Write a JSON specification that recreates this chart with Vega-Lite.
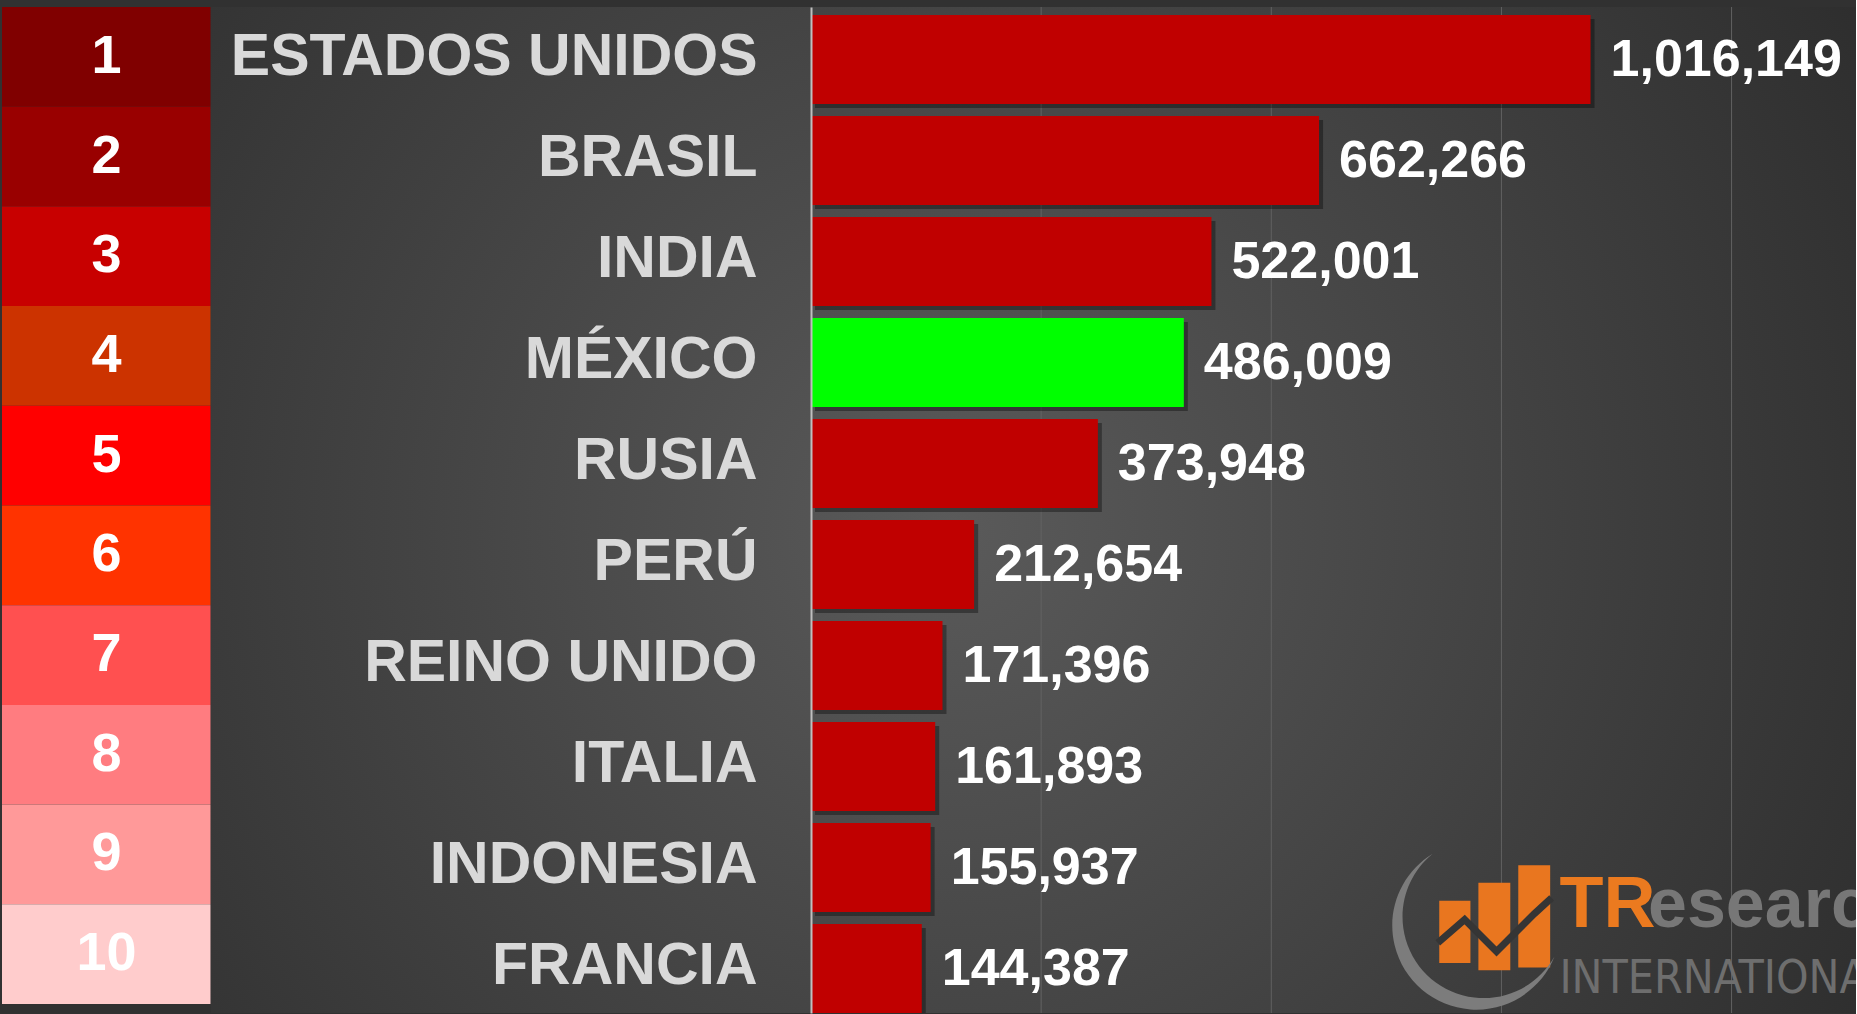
{
  "$schema": "https://vega.github.io/schema/vega-lite/v6.json",
  "background": "#313131",
  "padding": {"top": 6, "left": 2, "right": 0, "bottom": 0},
  "config": {"view": {"stroke": null}, "font": "Liberation Sans"},
  "datasets": {
    "ranking": [
      {"rango": 1, "pais": "ESTADOS UNIDOS", "muertes": 1016149},
      {"rango": 2, "pais": "BRASIL", "muertes": 662266},
      {"rango": 3, "pais": "INDIA", "muertes": 522001},
      {"rango": 4, "pais": "MÉXICO", "muertes": 486009},
      {"rango": 5, "pais": "RUSIA", "muertes": 373948},
      {"rango": 6, "pais": "PERÚ", "muertes": 212654},
      {"rango": 7, "pais": "REINO UNIDO", "muertes": 171396},
      {"rango": 8, "pais": "ITALIA", "muertes": 161893},
      {"rango": 9, "pais": "INDONESIA", "muertes": 155937},
      {"rango": 10, "pais": "FRANCIA", "muertes": 144387}
    ],
    "cuadricula": [
      {"valor": 300000}, {"valor": 600000}, {"valor": 900000}, {"valor": 1200000}
    ]
  },
  "bounds": "flush",
  "spacing": 600,
  "hconcat": [
    {
      "data": {"name": "ranking"},
      "width": 209,
      "height": 997,
      "encoding": {
        "y": {"field": "rango", "type": "ordinal", "axis": null, "scale": {"paddingInner": 0, "paddingOuter": 0}}
      },
      "layer": [
        {
          "mark": {"type": "bar"},
          "encoding": {
            "color": {
              "field": "rango", "type": "ordinal", "legend": null,
              "scale": {"domain": [1, 2, 3, 4, 5, 6, 7, 8, 9, 10],
                        "range": ["#800000", "#990000", "#c80000", "#cc3300", "#ff0000", "#ff3300", "#ff5050", "#ff7c80", "#ff9999", "#ffcccc"]}
            }
          }
        },
        {
          "mark": {"type": "text", "color": "#ffffff", "fontSize": 54, "fontWeight": "bold", "baseline": "middle", "align": "center"},
          "encoding": {"text": {"field": "rango", "type": "ordinal"}}
        }
      ]
    },
    {
      "width": 1045,
      "height": 1006,
      "layer": [
        {
          "data": {"values": [{"fondo": "degradado"}]},
          "mark": {
            "type": "rect",
            "color": {"gradient": "radial", "x1": 0.45, "y1": 0.51, "r1": 0, "x2": 0.45, "y2": 0.51, "r2": 0.68,
                      "stops": [{"offset": 0, "color": "#5a5a5a"}, {"offset": 1, "color": "#2b2b2b"}]}
          },
          "encoding": {
            "x": {"datum": -782800, "type": "quantitative", "axis": null},
            "x2": {"datum": 1362200}
          }
        },
        {
          "data": {"name": "cuadricula"},
          "mark": {"type": "rule", "color": "#626262", "strokeWidth": 1},
          "encoding": {
            "x": {"field": "valor", "type": "quantitative", "axis": null}
          }
        },
        {
          "data": {"name": "ranking"},
          "encoding": {
            "y": {
              "field": "pais", "type": "nominal",
              "sort": {"field": "rango", "op": "min", "order": "ascending"},
              "scale": {"paddingInner": 0.119, "paddingOuter": 0.04, "align": 1},
              "axis": {
                "title": null, "ticks": false, "tickSize": 0, "labelPadding": 54,
                "labelFontSize": 59, "labelFontWeight": "bold", "labelColor": "#d9d9d9",
                "labelFont": "Liberation Sans", "labelLimit": 0, "labelOffset": -3,
                "domainColor": "#bfbfbf", "domainWidth": 2, "zindex": 1
              }
            },
            "x": {
              "field": "muertes", "type": "quantitative",
              "scale": {"domain": [0, 1362200], "nice": false},
              "axis": null
            }
          },
          "layer": [
            {
              "mark": {"type": "bar", "color": "#000000", "opacity": 0.35, "clip": true, "xOffset": 4, "x2Offset": 4, "yOffset": 4, "y2Offset": 4}
            },
            {
              "mark": {"type": "bar", "clip": true},
              "encoding": {
                "color": {"condition": {"test": "datum.pais === 'MÉXICO'", "value": "#00ff00"}, "value": "#c00000"}
              }
            },
            {
              "mark": {"type": "text", "align": "left", "baseline": "middle", "dx": 20, "fontSize": 52, "fontWeight": "bold", "color": "#ffffff"},
              "encoding": {"text": {"field": "muertes", "type": "quantitative", "format": ",d"}}
            }
          ]
        },
        {
          "data": {"values": [{"parte": "barras"}]},
          "mark": {"type": "point", "filled": true, "opacity": 1, "color": "#e9761f", "size": 21025, "yOffset": -46,
                   "shape": "M -0.61 -0.30 H -0.18 V 0.56 H -0.61 Z M -0.07 -0.55 H 0.37 V 0.66 H -0.07 Z M 0.48 -0.79 H 0.92 V 0.62 H 0.48 Z"},
          "encoding": {
            "x": {"datum": 876600, "type": "quantitative", "axis": null},
            "y": {"datum": "FRANCIA", "type": "nominal"}
          }
        },
        {
          "data": {"values": [{"parte": "flecha"}]},
          "mark": {"type": "point", "filled": false, "opacity": 1, "color": "#353535", "strokeWidth": 7, "size": 21025, "yOffset": -46,
                   "shape": "M -0.63 0.28 L -0.26 -0.04 L 0.18 0.40 L 0.70 -0.12 L 0.94 -0.34"},
          "encoding": {
            "x": {"datum": 876600, "type": "quantitative", "axis": null},
            "y": {"datum": "FRANCIA", "type": "nominal"}
          }
        },
        {
          "data": {"values": [{"parte": "luna"}]},
          "mark": {"type": "point", "filled": true, "opacity": 1, "color": "#7c7c7c", "size": 21025, "yOffset": -46,
                   "shape": "M -0.70 -0.95 A 1.16 1.16 0 1 0 0.98 0.47 A 1.12 1.12 0 1 1 -0.70 -0.95 Z"},
          "encoding": {
            "x": {"datum": 876600, "type": "quantitative", "axis": null},
            "y": {"datum": "FRANCIA", "type": "nominal"}
          }
        },
        {
          "data": {"values": [{"texto": "TR"}]},
          "mark": {"type": "text", "align": "left", "baseline": "alphabetic", "dy": -42, "fontSize": 72, "fontWeight": "bold", "color": "#eb7a1f"},
          "encoding": {
            "x": {"datum": 975600, "type": "quantitative", "axis": null},
            "y": {"datum": "FRANCIA", "type": "nominal"},
            "text": {"field": "texto", "type": "nominal"}
          }
        },
        {
          "data": {"values": [{"texto": "esearch"}]},
          "mark": {"type": "text", "align": "left", "baseline": "alphabetic", "dy": -42, "fontSize": 70, "fontWeight": "bold", "color": "#777777", "clip": true},
          "encoding": {
            "x": {"datum": 1091000, "type": "quantitative", "axis": null},
            "y": {"datum": "FRANCIA", "type": "nominal"},
            "text": {"field": "texto", "type": "nominal"}
          }
        },
        {
          "data": {"values": [{"texto": "INTERNATIONAL"}]},
          "mark": {"type": "text", "align": "left", "baseline": "alphabetic", "dy": 24, "fontSize": 46, "font": "DejaVu Sans Condensed, Liberation Sans", "color": "#6e6e6e", "clip": true},
          "encoding": {
            "x": {"datum": 975600, "type": "quantitative", "axis": null},
            "y": {"datum": "FRANCIA", "type": "nominal"},
            "text": {"field": "texto", "type": "nominal"}
          }
        }
      ]
    }
  ]
}
